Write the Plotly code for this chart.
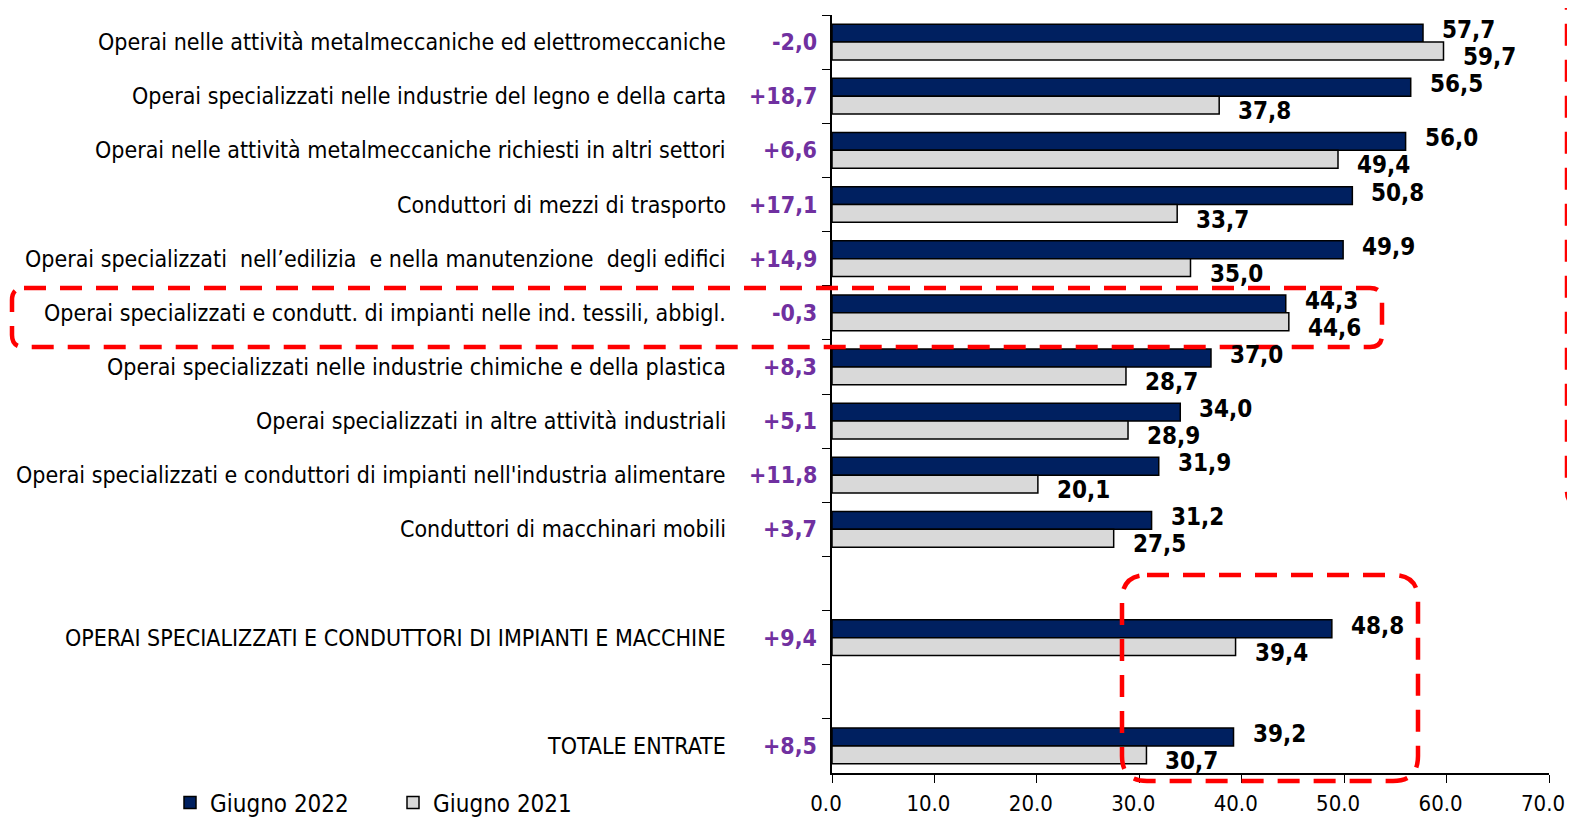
import plotly.graph_objects as go

# categorie (dall'alto verso il basso), "" = riga vuota
categorie = [
    "Operai nelle attività metalmeccaniche ed elettromeccaniche",
    "Operai specializzati nelle industrie del legno e della carta",
    "Operai nelle attività metalmeccaniche richiesti in altri settori",
    "Conduttori di mezzi di trasporto",
    "Operai specializzati  nell’edilizia  e nella manutenzione  degli edifici",
    "Operai specializzati e condutt. di impianti nelle ind. tessili, abbigl.",
    "Operai specializzati nelle industrie chimiche e della plastica",
    "Operai specializzati in altre attività industriali",
    "Operai specializzati e conduttori di impianti nell'industria alimentare",
    "Conduttori di macchinari mobili",
    "",
    "OPERAI SPECIALIZZATI E CONDUTTORI DI IMPIANTI E MACCHINE",
    "",
    "TOTALE ENTRATE",
]
giugno_2022 = [57.7, 56.5, 56.0, 50.8, 49.9, 44.3, 37.0, 34.0, 31.9, 31.2, None, 48.8, None, 39.2]
giugno_2021 = [59.7, 37.8, 49.4, 33.7, 35.0, 44.6, 28.7, 28.9, 20.1, 27.5, None, 39.4, None, 30.7]
variazioni = ["-2,0", "+18,7", "+6,6", "+17,1", "+14,9", "-0,3", "+8,3", "+5,1", "+11,8", "+3,7", "", "+9,4", "", "+8,5"]
x_ticks = [0, 10, 20, 30, 40, 50, 60, 70]

# la pagina ha un margine di 8px attorno al grafico
OFF = 8
W, H = 1575 - OFF, 819 - OFF
L, R, T, B = 824, 26, 7, 46
FONT = "Liberation Sans Narrow, Arial Narrow, DejaVu Sans Condensed, sans-serif"
NAVY = "#002060"
GRIGIO = "#d9d9d9"
VIOLA = "#7030a0"

# chiavi uniche per le righe vuote
ykeys = [c if c else "_vuoto%d" % i for i, c in enumerate(categorie)]


def fmt(v):
    return ("%.1f" % v).replace(".", ",")


fig = go.Figure()
fig.add_trace(go.Bar(
    y=ykeys, x=giugno_2022, orientation="h", name="Giugno 2022",
    marker=dict(color=NAVY, line=dict(color="black", width=1.5)),
))
fig.add_trace(go.Bar(
    y=ykeys, x=giugno_2021, orientation="h", name="Giugno 2021",
    marker=dict(color=GRIGIO, line=dict(color="black", width=1.5)),
))

ann = []
for key, cat, v22, v21, d in zip(ykeys, categorie, giugno_2022, giugno_2021, variazioni):
    if not cat:
        continue
    ann.append(dict(x=0, xref="paper", y=key, yref="y", text=cat, showarrow=False,
                    xanchor="right", xshift=-104, font=dict(size=23, color="black", family=FONT)))
    ann.append(dict(x=0, xref="paper", y=key, yref="y", text="<b>%s</b>" % d, showarrow=False,
                    xanchor="right", xshift=-13, font=dict(size=23, color=VIOLA, family=FONT)))
    ann.append(dict(x=v22, y=key, text="<b>%s</b>" % fmt(v22), showarrow=False,
                    xanchor="left", xshift=17, yshift=12, font=dict(size=24, color="black", family=FONT)))
    ann.append(dict(x=v21, y=key, text="<b>%s</b>" % fmt(v21), showarrow=False,
                    xanchor="left", xshift=17, yshift=-15, font=dict(size=24, color="black", family=FONT)))


# conversione da pixel dello schermo a coordinate "paper"
def px(x):
    return (x - OFF - L) / (W - L - R)


def py(y):
    return (H - B - (y - OFF)) / (H - T - B)


def riquadro(x0, y0, x1, y1, r):
    pts = [
        ("M", [(x0 + r, y0)]), ("L", [(x1 - r, y0)]), ("Q", [(x1, y0), (x1, y0 + r)]),
        ("L", [(x1, y1 - r)]), ("Q", [(x1, y1), (x1 - r, y1)]), ("L", [(x0 + r, y1)]),
        ("Q", [(x0, y1), (x0, y1 - r)]), ("L", [(x0, y0 + r)]), ("Q", [(x0, y0), (x0 + r, y0)]),
    ]
    s = ""
    for cmd, ps in pts:
        s += cmd + " " + " ".join("%.5f,%.5f" % (px(a), py(b)) for a, b in ps) + " "
    return dict(type="path", path=s + "Z", xref="paper", yref="paper", layer="above",
                line=dict(color="#ff0000", width=4.5, dash="22px,14px"))


shapes = [
    riquadro(12, 288, 1382, 347, 12),
    riquadro(1122, 575, 1418, 781, 25),
    riquadro(1567, -60, 1700, 505, 14),
]

fig.update_layout(
    width=W, height=H,
    margin=dict(l=L, r=R, t=T, b=B, autoexpand=False),
    plot_bgcolor="white", paper_bgcolor="white",
    barmode="group", bargap=0.34, bargroupgap=0,
    font=dict(family=FONT, size=23, color="black"),
    xaxis=dict(range=[0, 70], tickvals=x_ticks, tickformat=".1f", showgrid=False, zeroline=False,
               showline=True, linecolor="black", linewidth=1.5, ticks="outside", ticklen=8,
               tickcolor="black", tickfont=dict(size=22, family=FONT), automargin=False,
               ticklabelstandoff=2, ticklabelshift=-6),
    yaxis=dict(type="category", categoryorder="array", categoryarray=ykeys, range=[13.5, -0.5],
               showticklabels=False, showgrid=False, zeroline=False, showline=True, linecolor="black",
               linewidth=1.5, ticks="outside", ticklen=8, tickcolor="black", tickson="boundaries",
               automargin=False),
    legend=dict(orientation="h", x=px(170), y=py(803), xanchor="left", yanchor="middle",
                font=dict(size=24, family=FONT), entrywidth=178, entrywidthmode="pixels",
                bgcolor="rgba(0,0,0,0)"),
    annotations=ann,
    shapes=shapes,
    showlegend=True,
)

fig.write_html("out.html")
